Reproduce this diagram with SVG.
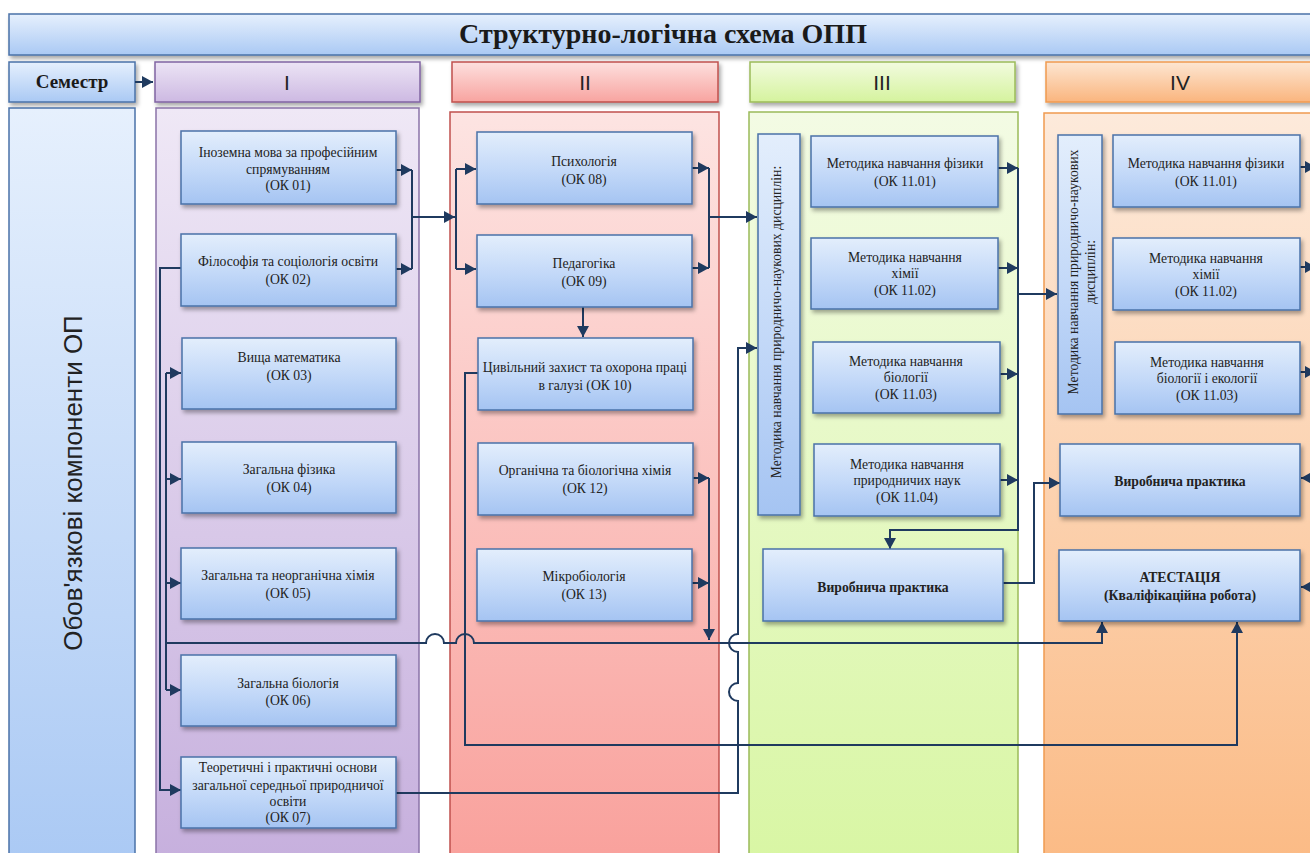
<svg xmlns="http://www.w3.org/2000/svg" width="1310" height="853" viewBox="0 0 1310 853">
<defs>
<linearGradient id="gBlue" x1="0" y1="0" x2="0" y2="1"><stop offset="0" stop-color="#e3eefc"/><stop offset="0.55" stop-color="#c2d8f8"/><stop offset="1" stop-color="#a5c4f2"/></linearGradient>
<linearGradient id="gBar" x1="0" y1="0" x2="0" y2="1"><stop offset="0" stop-color="#e6f0fd"/><stop offset="1" stop-color="#aac9f4"/></linearGradient>
<linearGradient id="gP" x1="0" y1="0" x2="0" y2="1"><stop offset="0" stop-color="#efe8f6"/><stop offset="1" stop-color="#c6afdd"/></linearGradient>
<linearGradient id="gR" x1="0" y1="0" x2="0" y2="1"><stop offset="0" stop-color="#fde4e2"/><stop offset="1" stop-color="#f9a09b"/></linearGradient>
<linearGradient id="gG" x1="0" y1="0" x2="0" y2="1"><stop offset="0" stop-color="#f3fbe4"/><stop offset="1" stop-color="#d8f6a3"/></linearGradient>
<linearGradient id="gO" x1="0" y1="0" x2="0" y2="1"><stop offset="0" stop-color="#fdeadb"/><stop offset="1" stop-color="#fbba84"/></linearGradient>
<linearGradient id="hP" x1="0" y1="0" x2="0" y2="1"><stop offset="0" stop-color="#ece4f5"/><stop offset="1" stop-color="#cdb9e2"/></linearGradient>
<linearGradient id="hR" x1="0" y1="0" x2="0" y2="1"><stop offset="0" stop-color="#fde0de"/><stop offset="1" stop-color="#f8a4a0"/></linearGradient>
<linearGradient id="hG" x1="0" y1="0" x2="0" y2="1"><stop offset="0" stop-color="#f2fbdf"/><stop offset="1" stop-color="#d5f39e"/></linearGradient>
<linearGradient id="hO" x1="0" y1="0" x2="0" y2="1"><stop offset="0" stop-color="#fde6d2"/><stop offset="1" stop-color="#fab57e"/></linearGradient>
<filter id="sh" x="-10%" y="-10%" width="125%" height="130%"><feDropShadow dx="2" dy="3" stdDeviation="2" flood-color="#000" flood-opacity="0.35"/></filter>
<marker id="ar" markerUnits="userSpaceOnUse" markerWidth="12" markerHeight="12" refX="11" refY="6" orient="auto"><path d="M0,0 L11,6 L0,12 z" fill="#1f3a5f"/></marker>
<style>
.box{fill:url(#gBlue);stroke:#4a72a8;stroke-width:1.5;filter:url(#sh)}
.t{font-family:"Liberation Serif","Times New Roman",serif;font-size:13.7px;fill:#222;text-anchor:middle}
.tb{font-family:"Liberation Serif","Times New Roman",serif;font-size:13.7px;font-weight:bold;fill:#222;text-anchor:middle}
.rn{font-family:"Liberation Sans",Arial,sans-serif;font-size:21px;fill:#222;text-anchor:middle}
.c{fill:none;stroke:#1f3a5f;stroke-width:2}
.ca{fill:none;stroke:#1f3a5f;stroke-width:2;marker-end:url(#ar)}
</style>
</defs>
<rect width="1310" height="853" fill="#fff"/>

<g id="title"><rect x="9" y="14" width="1310" height="41" fill="url(#gBar)" stroke="#4a72a8" stroke-width="1.5" filter="url(#sh)"/><text x="663" y="43" style="font-family:'Liberation Serif','Times New Roman',serif;font-size:28px;font-weight:bold;fill:#1a1a1a;text-anchor:middle">Структурно-логічна схема ОПП</text></g>
<g id="semester"><rect x="9" y="62" width="126" height="40" fill="url(#gBar)" stroke="#4a72a8" stroke-width="1.5" filter="url(#sh)"/><text x="72" y="88" style="font-family:'Liberation Serif','Times New Roman',serif;font-size:19px;font-weight:bold;fill:#1a1a1a;text-anchor:middle">Семестр</text></g>
<g id="obov"><rect x="9" y="108" width="126" height="760" fill="url(#gBar)" stroke="#4a72a8" stroke-width="1.5"/><text transform="translate(82,483) rotate(-90)" style="font-family:'Liberation Sans',Arial,sans-serif;font-size:26px;fill:#222;text-anchor:middle">Обов'язкові компоненти ОП</text></g>

<g id="hdr1"><rect x="155" y="62" width="265" height="40" fill="url(#hP)" stroke="#8064a2" stroke-width="1.5" filter="url(#sh)"/><text class="rn" x="287" y="90">I</text></g>
<g id="hdr2"><rect x="452" y="62" width="266" height="40" fill="url(#hR)" stroke="#c0504d" stroke-width="1.5" filter="url(#sh)"/><text class="rn" x="585" y="90">II</text></g>
<g id="hdr3"><rect x="750" y="62" width="265" height="40" fill="url(#hG)" stroke="#9bbb59" stroke-width="1.5" filter="url(#sh)"/><text class="rn" x="882" y="90">III</text></g>
<g id="hdr4"><rect x="1046" y="62" width="280" height="40" fill="url(#hO)" stroke="#f09a50" stroke-width="1.5" filter="url(#sh)"/><text class="rn" x="1180" y="90">IV</text></g>

<g id="col1"><rect x="156" y="108" width="263" height="760" fill="url(#gP)" stroke="#8a73a8" stroke-width="1.5"/></g>
<g id="col2"><rect x="450" y="112" width="269" height="760" fill="url(#gR)" stroke="#c0504d" stroke-width="1.5"/></g>
<g id="col3"><rect x="749" y="112" width="269" height="760" fill="url(#gG)" stroke="#9bbb59" stroke-width="1.5"/></g>
<g id="col4"><rect x="1044" y="113" width="280" height="760" fill="url(#gO)" stroke="#f09a50" stroke-width="1.5"/></g>

<g id="connectors">
<path class="ca" d="M135,82 H153"/>
<path class="ca" d="M396,170 H412"/>
<path class="ca" d="M396,269 H412"/>
<path class="c" d="M412,170 V269"/>
<path class="ca" d="M412,217 H455"/>
<path class="c" d="M456,169 V269"/>
<path class="ca" d="M456,169 H476"/>
<path class="ca" d="M456,269 H476"/>
<path class="ca" d="M692,168 H709"/>
<path class="ca" d="M692,268 H709"/>
<path class="c" d="M709,168 V268"/>
<path class="ca" d="M709,217 H757"/>
<path class="ca" d="M583,307 V337"/>
<path class="ca" d="M478,373 H465 V745 H1237 V622"/>
<path class="ca" d="M166,643 H426 a9,9 0 0 1 18,0 H456 a9,9 0 0 1 18,0 H1102 V622"/>
<path class="c" d="M166,373 V690"/>
<path class="ca" d="M166,373 H181"/>
<path class="ca" d="M166,479 H181"/>
<path class="ca" d="M166,583 H181"/>
<path class="ca" d="M166,690 H181"/>
<path class="ca" d="M181,268 H160 V790 H181"/>
<path class="ca" d="M396,793 H738 V701 a9,9 0 0 1 0,-18 V652 a9,9 0 0 1 0,-18 V348 H757"/>
<path class="ca" d="M693,478 H709"/>
<path class="ca" d="M692,583 H709"/>
<path class="ca" d="M709,478 V640"/>
<path class="ca" d="M998,168 H1018"/>
<path class="ca" d="M998,268 H1018"/>
<path class="ca" d="M1000,374 H1018"/>
<path class="ca" d="M1000,480 H1018"/>
<path class="ca" d="M1018,168 V530 H890 V549"/>
<path class="ca" d="M1018,294 H1057"/>
<path class="ca" d="M1003,583 H1034 V483 H1060"/>
<path class="ca" d="M1300,167 H1316"/>
<path class="ca" d="M1300,267 H1316"/>
<path class="ca" d="M1300,372 H1316"/>
<path class="ca" d="M1325,478 H1301"/>
<path class="ca" d="M1325,587 H1301"/>
</g>

<g id="ok01"><rect class="box" x="181" y="131" width="215" height="73"/><text class="t" x="288" y="157">Іноземна мова за професійним</text><text class="t" x="288" y="174">спрямуванням</text><text class="t" x="288" y="190">(ОК 01)</text></g>
<g id="ok02"><rect class="box" x="181" y="234" width="215" height="72"/><text class="t" x="288" y="266">Філософія та соціологія освіти</text><text class="t" x="288" y="284">(ОК 02)</text></g>
<g id="ok03"><rect class="box" x="182" y="338" width="214" height="71"/><text class="t" x="289" y="362">Вища математика</text><text class="t" x="289" y="380">(ОК 03)</text></g>
<g id="ok04"><rect class="box" x="182" y="442" width="214" height="71"/><text class="t" x="289" y="474">Загальна фізика</text><text class="t" x="289" y="492">(ОК 04)</text></g>
<g id="ok05"><rect class="box" x="181" y="548" width="215" height="71"/><text class="t" x="288" y="580">Загальна та неорганічна  хімія</text><text class="t" x="288" y="598">(ОК 05)</text></g>
<g id="ok06"><rect class="box" x="181" y="655" width="215" height="71"/><text class="t" x="288" y="688">Загальна біологія</text><text class="t" x="288" y="705">(ОК 06)</text></g>
<g id="ok07"><rect class="box" x="181" y="757" width="215" height="71"/><text class="t" x="288" y="772">Теоретичні і практичні основи</text><text class="t" x="288" y="790">загальної середньої природничої</text><text class="t" x="288" y="806">освіти</text><text class="t" x="288" y="822">(ОК 07)</text></g>

<g id="ok08"><rect class="box" x="477" y="132" width="215" height="72"/><text class="t" x="584" y="166">Психологія</text><text class="t" x="584" y="184">(ОК 08)</text></g>
<g id="ok09"><rect class="box" x="477" y="235" width="215" height="72"/><text class="t" x="584" y="268">Педагогіка</text><text class="t" x="584" y="286">(ОК 09)</text></g>
<g id="ok10"><rect class="box" x="478" y="338" width="215" height="72"/><text class="t" x="585" y="372">Цивільний захист та охорона праці</text><text class="t" x="585" y="390">в галузі (ОК 10)</text></g>
<g id="ok12"><rect class="box" x="478" y="443" width="215" height="72"/><text class="t" x="585" y="475">Органічна та біологічна хімія</text><text class="t" x="585" y="493">(ОК 12)</text></g>
<g id="ok13"><rect class="box" x="477" y="549" width="215" height="72"/><text class="t" x="584" y="581">Мікробіологія</text><text class="t" x="584" y="599">(ОК 13)</text></g>

<g id="met3"><rect class="box" x="758" y="134" width="42" height="381"/><text class="t" transform="translate(781,322) rotate(-90)">Методика навчання природничо-наукових  дисциплін:</text></g>
<g id="m3-01"><rect class="box" x="811" y="136" width="187" height="71"/><text class="t" x="905" y="168">Методика навчання фізики</text><text class="t" x="905" y="186">(ОК 11.01)</text></g>
<g id="m3-02"><rect class="box" x="811" y="238" width="187" height="71"/><text class="t" x="905" y="262">Методика навчання</text><text class="t" x="905" y="278">хімії</text><text class="t" x="905" y="295">(ОК 11.02)</text></g>
<g id="m3-03"><rect class="box" x="813" y="342" width="187" height="71"/><text class="t" x="906" y="366">Методика навчання</text><text class="t" x="906" y="382">біології</text><text class="t" x="906" y="399">(ОК 11.03)</text></g>
<g id="m3-04"><rect class="box" x="814" y="444" width="186" height="72"/><text class="t" x="907" y="469">Методика навчання</text><text class="t" x="907" y="485">природничих  наук</text><text class="t" x="907" y="502">(ОК 11.04)</text></g>
<g id="vp3"><rect class="box" x="763" y="549" width="240" height="72"/><text class="tb" x="883" y="592">Виробнича практика</text></g>

<g id="met4"><rect class="box" x="1058" y="135" width="44" height="279"/><text class="t" transform="translate(1078,272) rotate(-90)">Методика навчання природничо-наукових</text><text class="t" transform="translate(1095,272) rotate(-90)">дисциплін:</text></g>
<g id="m4-01"><rect class="box" x="1113" y="135" width="187" height="72"/><text class="t" x="1206" y="168">Методика навчання фізики</text><text class="t" x="1206" y="186">(ОК 11.01)</text></g>
<g id="m4-02"><rect class="box" x="1113" y="238" width="187" height="72"/><text class="t" x="1206" y="263">Методика навчання</text><text class="t" x="1206" y="279">хімії</text><text class="t" x="1206" y="296">(ОК 11.02)</text></g>
<g id="m4-03"><rect class="box" x="1115" y="342" width="185" height="72"/><text class="t" x="1207" y="367">Методика навчання</text><text class="t" x="1207" y="383">біології і екології</text><text class="t" x="1207" y="400">(ОК 11.03)</text></g>
<g id="vp4"><rect class="box" x="1060" y="444" width="240" height="72"/><text class="tb" x="1180" y="486">Виробнича практика</text></g>
<g id="atest"><rect class="box" x="1059" y="550" width="241" height="71"/><text class="tb" x="1180" y="582">АТЕСТАЦІЯ</text><text class="tb" x="1180" y="600">(Кваліфікаційна робота)</text></g>
</svg>
